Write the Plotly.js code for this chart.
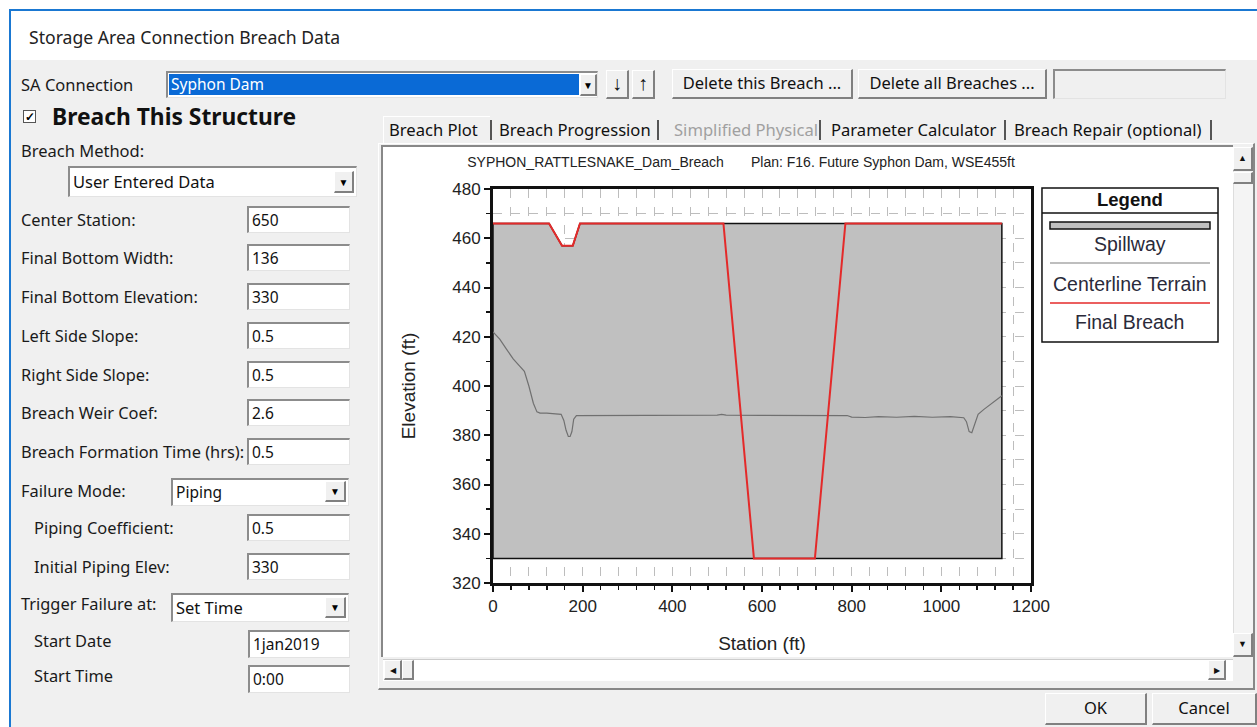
<!DOCTYPE html>
<html><head><meta charset="utf-8">
<script src="https://cdn.plot.ly/plotly-3.0.1.min.js"></script>
<style>
html,body{margin:0;padding:0;width:1257px;height:727px;overflow:hidden;background:#fff;font-family:"Noto Sans",sans-serif;}
.a{position:absolute;box-sizing:border-box;}
.lbl{position:absolute;font-size:16px;color:#1a1a1a;white-space:nowrap;line-height:18px;}
.tb{position:absolute;box-sizing:border-box;background:#fff;border-top:2px solid #8c8c8c;border-left:2px solid #8c8c8c;border-right:1px solid #e3e3e3;border-bottom:1px solid #e3e3e3;font-size:15px;padding:0 3px;color:#111;white-space:nowrap;overflow:hidden;}
.btn{position:absolute;box-sizing:border-box;background:#f0f0f0;border-top:1px solid #fff;border-left:1px solid #fff;border-right:2px solid #808080;border-bottom:2px solid #808080;font-size:16px;text-align:center;color:#111;white-space:nowrap;}
.dd{position:absolute;box-sizing:border-box;background:#f0f0f0;border-top:1px solid #fff;border-left:1px solid #fff;border-right:2px solid #808080;border-bottom:2px solid #808080;font-size:10px;text-align:center;color:#000;}
</style></head>
<body>
<div id="ui"></div>
<div id="plot" style="position:absolute;left:383px;top:147px;width:849px;height:509px;"></div>
<script>
// ---------------- chart data ----------------
const chartTitle = "SYPHON_RATTLESNAKE_Dam_Breach\u00a0\u00a0\u00a0\u00a0\u00a0\u00a0\u00a0Plan: F16. Future Syphon Dam, WSE455ft";
const xAxisTitle = "Station (ft)";
const yAxisTitle = "Elevation (ft)";
const legendTitle = "Legend";
const seriesNames = ["Spillway", "Centerline Terrain", "Final Breach"];

const spillwayStation = [0, 0, 125, 154, 178, 194, 1135, 1135, 0];
const spillwayElev    = [330, 466, 466, 457, 457, 466, 466, 330, 330];

const terrainStation = [0, 15, 30, 45, 60, 70, 80, 90, 98, 105, 120, 140, 152, 158, 163, 168, 172, 176, 180, 186, 200, 300, 400, 500, 510, 520, 600, 700, 790, 800, 830, 860, 900, 940, 980, 1020, 1050, 1056, 1062, 1068, 1074, 1082, 1095, 1110, 1124, 1135];
const terrainElev    = [422, 419, 415, 411, 408, 406, 400, 393, 389.5, 389, 389, 388.8, 388.5, 386, 382, 379.5, 379.5, 381.5, 386.5, 388, 388, 388, 388.1, 388.2, 388.5, 388.2, 388.1, 388, 388, 387.4, 387.2, 387.6, 387.3, 387.7, 387.3, 387.6, 387.1, 385.5, 381.5, 381, 384.5, 388.5, 390.5, 392.5, 394.5, 396];

const breachStation = [0, 125, 154, 178, 194, 514, 582, 718, 786, 1135];
const breachElev    = [466, 466, 457, 457, 466, 466, 330, 330, 466, 466];

// ---------------- dialog UI text ----------------
const fieldLabels = ["Center Station:", "Final Bottom Width:", "Final Bottom Elevation:", "Left Side Slope:", "Right Side Slope:", "Breach Weir Coef:", "Breach Formation Time (hrs):"];
const fieldValues = ["650", "136", "330", "0.5", "0.5", "2.6", "0.5"];
const tabNames = ["Breach Plot", "Breach Progression", "Simplified Physical", "Parameter Calculator", "Breach Repair (optional)"];

// ---------------- UI builder ----------------
const ui = document.getElementById('ui');
function mk(cls, x, y, w, h, txt, style) {
  const d = document.createElement('div');
  d.className = cls;
  d.style.left = x + 'px'; d.style.top = y + 'px';
  if (w != null) d.style.width = w + 'px';
  if (h != null) d.style.height = h + 'px';
  if (txt != null) d.textContent = txt;
  if (style) Object.assign(d.style, style);
  ui.appendChild(d);
  return d;
}
// window frame
mk('a', 9, 9, 1248, 718, null, {borderTop:'2px solid #1a78d2', borderLeft:'2px solid #1a78d2', background:'#fff'});
mk('a', 11, 60, 1246, 667, null, {background:'#f0f0f0'});
mk('lbl', 29, 26, null, null, "Storage Area Connection Breach Data", {fontSize:'17.6px', lineHeight:'22px', color:'#222'});

// SA connection row
mk('lbl', 21, 76, null, null, "SA Connection", {fontSize:'16.5px'});
mk('tb', 166, 71, 432, 27, null, {});
mk('a', 169, 74, 410, 21, "Syphon Dam", {background:'#0a6ad6', color:'#fff', fontSize:'15.5px', lineHeight:'21px', paddingLeft:'2px'});
mk('dd', 580, 74, 17, 22, "\u25BC", {lineHeight:'20px'});
mk('btn', 606, 70, 23, 29, "\u2193", {fontSize:'20px', fontWeight:'bold', lineHeight:'24px'});
mk('btn', 632, 70, 23, 29, "\u2191", {fontSize:'20px', fontWeight:'bold', lineHeight:'24px'});
mk('btn', 672, 69, 181, 30, "Delete this Breach ...", {lineHeight:'26px', fontSize:'16.5px'});
mk('btn', 858, 69, 189, 30, "Delete all Breaches ...", {lineHeight:'26px', fontSize:'16.5px'});
mk('tb', 1053, 69, 173, 30, null, {background:'#f0f0f0'});

// breach this structure
mk('a', 23, 110, 13, 13, "\u2713", {border:'1px solid #555', background:'#fff', fontSize:'12px', lineHeight:'11px', textAlign:'center', fontWeight:'bold'});
mk('lbl', 52, 103, null, null, "Breach This Structure", {fontSize:'22.8px', fontWeight:'bold', lineHeight:'28px', color:'#111'});
mk('lbl', 21, 142, null, null, "Breach Method:", {fontSize:'16.5px'});
mk('tb', 68, 166, 289, 31, "User Entered Data", {fontSize:'16.5px', lineHeight:'27px'});
mk('dd', 334, 171, 20, 22, "\u25BC", {lineHeight:'20px'});

const rowY = [220, 258, 297, 336, 375, 413, 452];
fieldLabels.forEach((t, i) => {
  mk('lbl', 21, rowY[i] - 9, null, null, t, {fontSize:'16.4px'});
  mk('tb', 247, rowY[i] - 14, 103, 27, fieldValues[i], {lineHeight:'24px', fontSize:'15.5px'});
});
// failure mode
mk('lbl', 21, 482, null, null, "Failure Mode:", {fontSize:'16.4px'});
mk('tb', 171, 478, 178, 28, "Piping", {lineHeight:'24px', fontSize:'15.5px'});
mk('dd', 325, 481, 21, 21, "\u25BC", {lineHeight:'19px'});
mk('lbl', 34, 519, null, null, "Piping Coefficient:", {fontSize:'16.4px'});
mk('tb', 247, 514, 103, 27, "0.5", {lineHeight:'24px', fontSize:'15.5px'});
mk('lbl', 34, 558, null, null, "Initial Piping Elev:", {fontSize:'16.4px'});
mk('tb', 247, 553, 103, 27, "330", {lineHeight:'24px', fontSize:'15.5px'});
mk('lbl', 21, 595, null, null, "Trigger Failure at:", {fontSize:'16.4px'});
mk('tb', 171, 593, 178, 29, "Set Time", {lineHeight:'26px', fontSize:'16.5px'});
mk('dd', 325, 597, 21, 21, "\u25BC", {lineHeight:'19px'});
mk('lbl', 34, 632, null, null, "Start Date", {fontSize:'16.4px'});
mk('tb', 248, 630, 102, 28, "1jan2019", {lineHeight:'25px', fontSize:'15.5px'});
mk('lbl', 34, 667, null, null, "Start Time", {fontSize:'16.4px'});
mk('tb', 248, 665, 102, 28, "0:00", {lineHeight:'25px', fontSize:'15.5px'});

// tabs
const tabX = [389, 499, 674, 831, 1014];
tabNames.forEach((t, i) => {
  mk('lbl', tabX[i], 120, null, null, t, {fontSize:'16.6px', lineHeight:'20px', color: i === 2 ? '#a0a0a0' : '#111'});
});
[490, 657, 819, 1004, 1210].forEach(x => mk('a', x, 120, 2, 20, null, {background:'#555'}));
mk('a', 383, 116, 107, 28, null, {borderTop:'1px solid #fff', borderLeft:'1px solid #fff', zIndex:0});
// tab panel
mk('a', 378, 143, 877, 547, null, {borderTop:'1px solid #fff', borderLeft:'1px solid #fff', borderRight:'2px solid #888', borderBottom:'2px solid #888'});
mk('a', 381, 145, 852, 512, null, {borderTop:'2px solid #888', borderLeft:'2px solid #888', background:'#fff'});
// vertical scrollbar
mk('a', 1233, 147, 20, 510, null, {background:'#f4f4f4', borderLeft:'1px solid #ddd'});
mk('btn', 1233, 147, 20, 24, "\u25B2", {fontSize:'9px', lineHeight:'20px'});
mk('btn', 1233, 172, 20, 12, null, {});
mk('btn', 1233, 633, 20, 24, "\u25BC", {fontSize:'9px', lineHeight:'20px'});
// horizontal scrollbar
mk('a', 383, 659, 850, 22, null, {background:'#fff', borderTop:'1px solid #ccc'});
mk('btn', 384, 660, 18, 20, "\u25C0", {fontSize:'8px', lineHeight:'18px'});
mk('btn', 402, 660, 12, 20, null, {});
mk('btn', 1208, 660, 18, 20, "\u25B6", {fontSize:'8px', lineHeight:'18px'});
// OK / Cancel
mk('btn', 1045, 693, 102, 32, "OK", {fontSize:'16.5px', lineHeight:'28px'});
mk('btn', 1152, 693, 105, 32, "Cancel", {fontSize:'16.5px', lineHeight:'28px'});

// ---------------- Plotly chart ----------------
const FONT = 'Liberation Sans, Arial, sans-serif';
const gridStyle = {showgrid:true, gridcolor:'#bdbdbd', griddash:'dash', gridwidth:1};
const traces = [
  {x: spillwayStation, y: spillwayElev, name: seriesNames[0], type:'scatter', mode:'lines', fill:'toself', fillcolor:'#c0c0c0', line:{color:'#111', width:1.5}, hoverinfo:'skip'},
  {x: terrainStation, y: terrainElev, name: seriesNames[1], type:'scatter', mode:'lines', line:{color:'#707070', width:1.2}},
  {x: breachStation, y: breachElev, name: seriesNames[2], type:'scatter', mode:'lines', line:{color:'#e42a2a', width:2}}
];

// custom boxed legend (paper coordinates)
const LX0 = 1.0204, LX1 = 1.3476, LXC = (LX0 + LX1) / 2;
const shapes = [
  {type:'rect', xref:'paper', yref:'paper', x0:LX0, x1:LX1, y0:0.6117, y1:1.0025, line:{color:'#111', width:1.5}, fillcolor:'#fff'},
  {type:'line', xref:'paper', yref:'paper', x0:LX0, x1:LX1, y0:0.939, y1:0.939, line:{color:'#111', width:1.5}},
  {type:'rect', xref:'paper', yref:'paper', x0:1.0353, x1:1.3327, y0:0.8985, y1:0.9162, line:{color:'#111', width:1.5}, fillcolor:'#c0c0c0'},
  {type:'line', xref:'paper', yref:'paper', x0:1.0353, x1:1.3327, y0:0.8122, y1:0.8122, line:{color:'#a8a8a8', width:1.5}},
  {type:'line', xref:'paper', yref:'paper', x0:1.0353, x1:1.3327, y0:0.7107, y1:0.7107, line:{color:'#e42a2a', width:1.5}}
];
const legFont = {family:FONT, size:19.5, color:'#2a2a3a'};
const annotations = [
  {xref:'paper', yref:'paper', x:LXC, y:0.9746, text:'<b>' + legendTitle + '</b>', showarrow:false, xanchor:'center', yanchor:'middle', font:{family:FONT, size:18.5, color:'#111'}},
  {xref:'paper', yref:'paper', x:LXC, y:0.8604, text:seriesNames[0], showarrow:false, xanchor:'center', yanchor:'middle', font:legFont},
  {xref:'paper', yref:'paper', x:LXC, y:0.7589, text:seriesNames[1], showarrow:false, xanchor:'center', yanchor:'middle', font:legFont},
  {xref:'paper', yref:'paper', x:LXC, y:0.6624, text:seriesNames[2], showarrow:false, xanchor:'center', yanchor:'middle', font:legFont}
];

const layout = {
  width: 849, height: 509,
  margin: {l:110, r:201, t:42, b:73},
  paper_bgcolor: '#fff', plot_bgcolor: '#fff',
  showlegend: false,
  title: {text: chartTitle, xref:'paper', x:0.461, xanchor:'center', yref:'container', y:0.97, yanchor:'middle', font:{family:FONT, size:14, color:'#222'}},
  xaxis: Object.assign({
    range:[0, 1200], tick0:0, dtick:200, ticks:'outside', ticklen:6, tickwidth:2, tickcolor:'#111',
    showline:true, linewidth:3, linecolor:'#111', mirror:true, zeroline:false,
    tickfont:{family:FONT, size:17, color:'#222'},
    minor:{dtick:40, ticks:'outside', ticklen:4, tickwidth:1.5, tickcolor:'#111', showgrid:true, gridcolor:'#bdbdbd', griddash:'dash', gridwidth:1},
    title:{text:xAxisTitle, font:{family:FONT, size:19, color:'#222'}, standoff:22}
  }, gridStyle),
  yaxis: Object.assign({
    range:[320, 480], tick0:320, dtick:20, ticks:'outside', ticklen:6, tickwidth:2, tickcolor:'#111',
    showline:true, linewidth:3, linecolor:'#111', mirror:true, zeroline:false,
    tickfont:{family:FONT, size:17, color:'#222'},
    minor:{dtick:10, ticks:'outside', ticklen:4, tickwidth:1.5, tickcolor:'#111', showgrid:true, gridcolor:'#bdbdbd', griddash:'dash', gridwidth:1},
    title:{text:yAxisTitle, font:{family:FONT, size:19, color:'#222'}, standoff:32}
  }, gridStyle),
  shapes: shapes,
  annotations: annotations
};
Plotly.newPlot('plot', traces, layout, {displayModeBar:false, staticPlot:true});
</script>
</body></html>
